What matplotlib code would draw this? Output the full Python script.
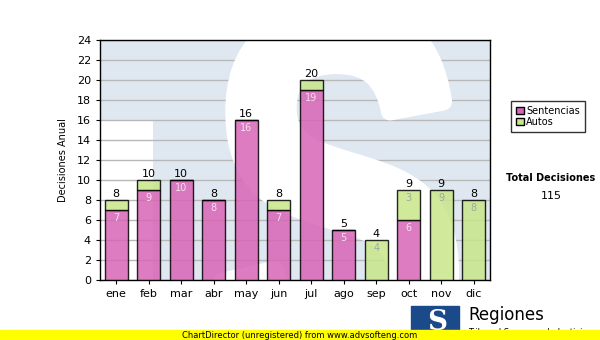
import matplotlib.pyplot as plt
from matplotlib.patches import Patch, Rectangle, PathPatch
from matplotlib.textpath import TextPath
from matplotlib.font_manager import FontProperties
from matplotlib.transforms import Affine2D
import numpy as np

# monthly decisions
meses = ['ene', 'feb', 'mar', 'abr', 'may', 'jun', 'jul', 'ago', 'sep', 'oct', 'nov', 'dic']
sentencias = [7, 9, 10, 8, 16, 7, 19, 5, 0, 6, 0, 0]
autos = [1, 1, 0, 0, 0, 1, 1, 0, 4, 3, 9, 8]
total = sum(sentencias) + sum(autos)

col_sent = '#d865b5'
col_autos = '#c8e68a'
bg_blue = '#dfe8f1'
plt.rcParams['font.family'] = 'DejaVu Sans'

fig = plt.figure(figsize=(6, 3.4), dpi=100)
ax = fig.add_axes([100/600, 1-280/340, 390/600, 240/340])
ax.set_facecolor(bg_blue)
ax.set_ylim(0, 24)
ax.set_xlim(-0.5, 11.5)


def px2data(px, py):
    return -0.5 + (px - 100) / 32.5, 24 - (py - 40) / 10.0


# watermark logo: white area left of the T stem, big white S
x0, y0 = px2data(100, 120)
x1, y1 = px2data(153, 290)
ax.add_patch(Rectangle((x0, y1), x1 - x0, y0 - y1, color='white', zorder=0.5, lw=0))

sp = TextPath((0, 0), 'S', size=100, prop=FontProperties(family='Liberation Sans', weight='bold'))
bb = sp.get_extents()
sx0, sy0 = px2data(222, 12)
sx1, sy1 = px2data(450, 380)
tr = Affine2D().translate(-bb.x0, -bb.y0).scale((sx1 - sx0) / bb.width, (sy0 - sy1) / bb.height).translate(sx0, sy1)
ax.add_patch(PathPatch(tr.transform_path(sp), facecolor='white', edgecolor='white', lw=13,
                       joinstyle='round', zorder=0.6))

x = np.arange(len(meses))
s = np.array(sentencias)
a = np.array(autos)
ax.bar(x, s, width=0.7, color=col_sent, alpha=0.85, edgecolor='black', linewidth=1, zorder=3)
ax.bar(x, a, width=0.7, bottom=s, color=col_autos, alpha=0.85, edgecolor='black', linewidth=1, zorder=3)

for i in range(len(meses)):
    if s[i] > 0:
        ax.text(x[i], s[i] - 0.35, str(s[i]), ha='center', va='top', fontsize=7, color='#f4e0f0', zorder=4)
    if a[i] > 1:
        ax.text(x[i], s[i] + a[i] - 0.35, str(a[i]), ha='center', va='top', fontsize=7, color='#a0a8a0', zorder=4)
    ax.text(x[i], s[i] + a[i] + 0.1, str(s[i] + a[i]), ha='center', va='bottom', fontsize=8, color='black', zorder=4)

ax.set_yticks(range(0, 25, 2))
ax.set_xticks(x)
ax.set_xticklabels(meses)
ax.tick_params(labelsize=8, length=3, direction='out')
ax.yaxis.grid(True, color='#b8b8b8', linewidth=1, zorder=1)
ax.set_axisbelow(True)
for spn in ax.spines.values():
    spn.set_linewidth(1)
ax.set_ylabel('Decisiones Anual', fontsize=7, labelpad=6)

# legend and total
fig.legend(handles=[Patch(facecolor=col_sent, edgecolor='black', label='Sentencias'),
                    Patch(facecolor=col_autos, edgecolor='black', label='Autos')],
           loc='upper left', bbox_to_anchor=(506/600, 1-96/340), fontsize=7,
           frameon=True, fancybox=False, edgecolor='black', handlelength=0.8,
           handleheight=0.8, handletextpad=0.3, borderpad=0.5, labelspacing=0.1)
fig.text(551/600, 1-178/340, 'Total Decisiones', ha='center', va='center', fontsize=7, fontweight='bold')
fig.text(551/600, 1-196/340, str(total), ha='center', va='center', fontsize=8)

# logo in the lower right, partly under the footer banner
fig.patches.append(Rectangle((411/600, 0), 48/600, 34/340, transform=fig.transFigure, color='#1a4a8a', zorder=1))
fig.text(437/600, 18/340, 'S', ha='center', va='center', fontsize=20, color='white', fontweight='bold',
         family='DejaVu Serif', zorder=2)
fig.text(468/600, 25/340, 'Regiones', ha='left', va='center', fontsize=12, zorder=2)
fig.text(468/600, 3/340, 'Tribunal Supremo de Justicia', ha='left', va='bottom', fontsize=6, zorder=2)
fig.patches.append(Rectangle((0, 0), 1, 10/340, transform=fig.transFigure, color='#ffff00', zorder=3))
fig.text(300/600, 5/340, 'ChartDirector (unregistered) from www.advsofteng.com', ha='center', va='center',
         fontsize=6, zorder=4)

fig.savefig('out.png', dpi=100)
